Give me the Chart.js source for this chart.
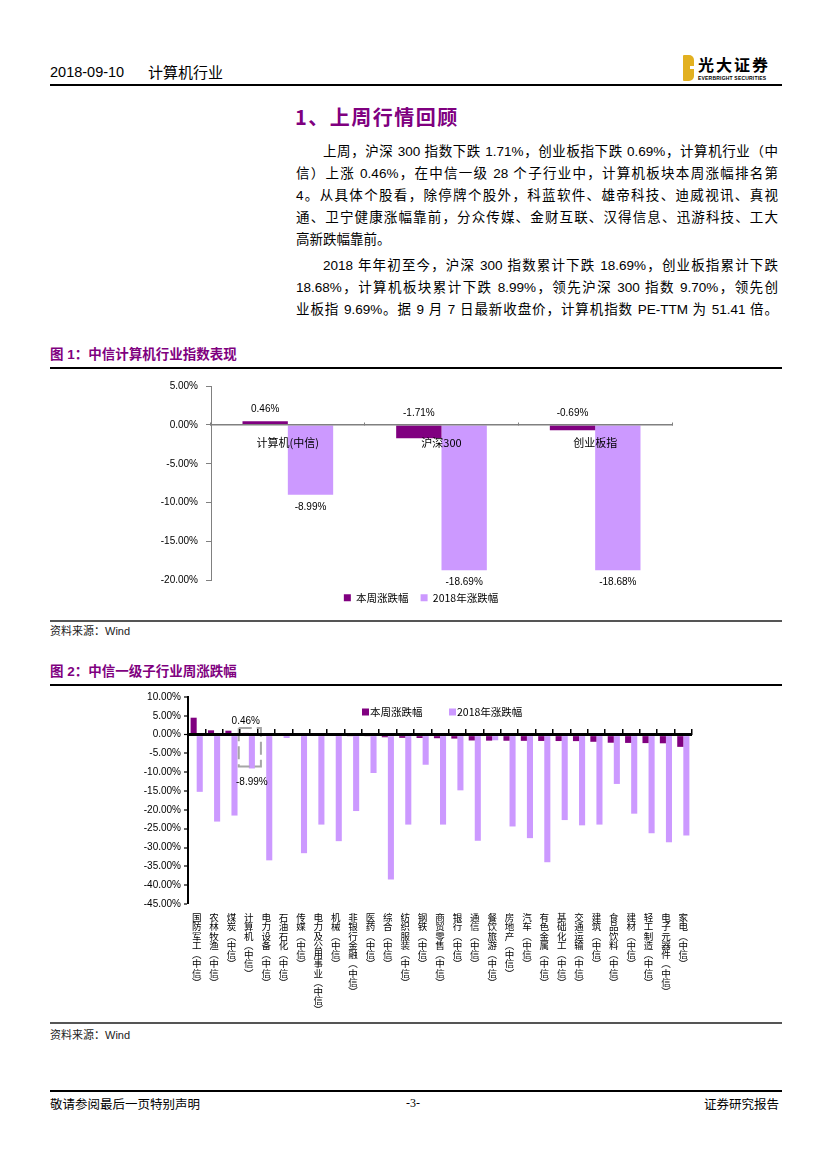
<!DOCTYPE html>
<html>
<head>
<meta charset="utf-8">
<script src="https://cdn.jsdelivr.net/npm/chart.js@4.4.0/dist/chart.umd.min.js"></script>
<style>
body { margin: 0; background: #fff; }
#page { position: relative; width: 827px; height: 1169px; overflow: hidden; font-family: "Liberation Sans", "Noto Sans CJK SC", sans-serif; color: #000; }
.abs { position: absolute; }
.rule { position: absolute; left: 50px; width: 732px; background: #000; }
.ln { position: absolute; left: 296px; width: 482px; font-size: 13.5px; line-height: 22px; text-align: justify; text-align-last: justify; }
.cap { position: absolute; left: 50px; font-size: 13.5px; font-weight: bold; color: #7f007f; line-height: 18px; }
.src { position: absolute; left: 50px; font-size: 11px; line-height: 14px; color: #222; }
canvas { position: absolute; }
</style>
</head>
<body>
<div id="page">
  <!-- header -->
  <div class="abs" style="left:50px;top:63px;font-size:14.5px;line-height:18px;">2018-09-10</div>
  <div class="abs" style="left:148px;top:63px;font-size:15px;line-height:18px;font-family:'Noto Sans CJK SC';">计算机行业</div>
  <div class="abs" style="left:683px;top:55px;width:11px;height:26px;background:#e2b020;border-radius:1px 5px 5px 1px;"></div>
  <div class="abs" style="left:690px;top:66px;width:4px;height:3px;background:#fff;"></div>
  <div class="abs" style="left:698px;top:54px;font-size:16px;line-height:20px;font-weight:bold;letter-spacing:2px;font-family:'Noto Sans CJK SC';">光大证券</div>
  <div class="abs" style="left:698px;top:75px;font-size:5px;line-height:6px;font-weight:bold;letter-spacing:0.2px;">EVERBRIGHT SECURITIES</div>
  <div class="rule" style="top:84px;height:1.5px;"></div>

  <!-- section text -->
  <div class="abs" style="left:295px;top:104px;font-size:20px;line-height:26px;font-weight:bold;color:#7f007f;letter-spacing:1.5px;font-family:'Noto Sans CJK SC';">1、上周行情回顾</div>
  <div class="ln" style="top:141px;text-indent:27px;">上周，沪深 300 指数下跌 1.71%，创业板指下跌 0.69%，计算机行业（中</div>
  <div class="ln" style="top:163px;">信）上涨 0.46%，在中信一级 28 个子行业中，计算机板块本周涨幅排名第</div>
  <div class="ln" style="top:185px;">4。从具体个股看，除停牌个股外，科蓝软件、雄帝科技、迪威视讯、真视</div>
  <div class="ln" style="top:207px;">通、卫宁健康涨幅靠前，分众传媒、金财互联、汉得信息、迅游科技、工大</div>
  <div class="ln" style="top:229px;text-align-last:left;">高新跌幅靠前。</div>
  <div class="ln" style="top:255px;text-indent:27px;">2018 年年初至今，沪深 300 指数累计下跌 18.69%，创业板指累计下跌</div>
  <div class="ln" style="top:277px;">18.68%，计算机板块累计下跌 8.99%，领先沪深 300 指数 9.70%，领先创</div>
  <div class="ln" style="top:299px;">业板指 9.69%。据 9 月 7 日最新收盘价，计算机指数 PE-TTM 为 51.41 倍。</div>

  <!-- figure 1 -->
  <div class="cap" style="top:346px;">图 1：中信计算机行业指数表现</div>
  <div class="rule" style="top:367px;height:1.5px;"></div>
  <canvas id="c1" width="730" height="245" style="left:56px;top:372px;"></canvas>
  <div class="rule" style="top:620px;height:2px;background:#555;"></div>
  <div class="src" style="top:624px;">资料来源：Wind</div>

  <!-- figure 2 -->
  <div class="cap" style="top:663px;">图 2：中信一级子行业周涨跌幅</div>
  <div class="rule" style="top:684px;height:1.5px;"></div>
  <canvas id="c2" width="730" height="332" style="left:50px;top:688px;"></canvas>
  <div class="rule" style="top:1022px;height:2px;background:#555;"></div>
  <div class="src" style="top:1028px;">资料来源：Wind</div>

  <!-- footer -->
  <div class="rule" style="top:1090px;height:1.5px;"></div>
  <div class="abs" style="left:50px;top:1096px;font-size:12.5px;line-height:15px;font-family:'Noto Sans CJK SC';">敬请参阅最后一页特别声明</div>
  <div class="abs" style="left:403px;top:1096px;width:20px;text-align:center;font-size:12px;line-height:15px;font-family:'Liberation Serif';">-3-</div>
  <div class="abs" style="left:704px;top:1096px;font-size:12.5px;line-height:15px;font-family:'Noto Sans CJK SC';">证券研究报告</div>
</div>

<script>
// figure 1: 中信计算机行业指数表现
var categories1 = ['计算机(中信)', '沪深300', '创业板指'];
var weekly1 = [0.46, -1.71, -0.69];
var ytd1 = [-8.99, -18.69, -18.68];

// figure 2: 中信一级子行业周涨跌幅
var categories2 = ['国防军工(中信)', '农林牧渔(中信)', '煤炭(中信)', '计算机(中信)', '电力设备(中信)',
    '石油石化(中信)', '传媒(中信)', '电力及公用事业(中信)', '机械(中信)', '非银行金融(中信)',
    '医药(中信)', '综合(中信)', '纺织服装(中信)', '钢铁(中信)', '商贸零售(中信)', '银行(中信)',
    '通信(中信)', '餐饮旅游(中信)', '房地产(中信)', '汽车(中信)', '有色金属(中信)', '基础化工(中信)',
    '交通运输(中信)', '建筑(中信)', '食品饮料(中信)', '建材(中信)', '轻工制造(中信)',
    '电子元器件(中信)', '家电(中信)'];
var weekly2 = [4.50, 1.15, 1.05, 0.46, 0.25, 0.15, 0.10, 0.05, 0.02, -0.05, -0.20, -0.70, -0.85,
    -0.90, -0.95, -1.05, -1.55, -1.60, -1.62, -1.65, -1.68, -1.70, -1.72, -1.90, -2.15, -2.20,
    -2.25, -2.30, -3.25];
var ytd2 = [-15.2, -23.1, -21.5, -8.99, -33.4, -0.9, -31.5, -23.9, -28.3, -20.3, -10.2, -38.5,
    -23.9, -8.0, -23.9, -14.8, -28.2, -1.5, -24.4, -27.5, -33.9, -22.7, -24.1, -23.9, -13.1,
    -21.0, -26.2, -28.6, -26.8];
var highlightIndex = 3; // 计算机(中信)

var seriesLabels = ['本周涨跌幅', '2018年涨跌幅'];
var DARK = '#800080';
var LIGHT = '#cc99ff';
var CJK = '"Noto Sans CJK SC", sans-serif';
var LATIN = '"Liberation Sans", sans-serif';

function pct(v) {
    return Number(v).toFixed(2) + '%';
}

// 竖排类目标签: 每个字一行, 括号换成竖排括号
function verticalLabel(s) {
    return Array.from(s.replace('(', '︵').replace(')', '︶'));
}

var valueLabels = {
    id: 'valueLabels',
    afterDatasetsDraw: function (chart, args, opts) {
        var ctx = chart.ctx;
        ctx.save();
        ctx.font = '10px ' + LATIN;
        ctx.fillStyle = '#000';
        ctx.textAlign = 'center';
        ctx.textBaseline = 'middle';
        chart.data.datasets.forEach(function (ds, di) {
            var meta = chart.getDatasetMeta(di);
            meta.data.forEach(function (bar, i) {
                if (opts.only != null && i !== opts.only) return;
                var y;
                if (di === 0) {
                    y = Math.min(bar.y, bar.base) - opts.above;
                } else {
                    y = Math.max(bar.y, bar.base) + opts.below;
                }
                ctx.fillText(pct(ds.data[i]), bar.x, y);
            });
        });
        ctx.restore();
    }
};

var focusBox = {
    id: 'focusBox',
    afterDatasetsDraw: function (chart, args, opts) {
        if (opts.index == null) return;
        var a = chart.getDatasetMeta(0).data[opts.index];
        var b = chart.getDatasetMeta(1).data[opts.index];
        var ctx = chart.ctx;
        var left = a.x - a.width / 2 - 4;
        var right = b.x + b.width / 2 + 6;
        var top = Math.min(a.y, a.base) - 5;
        var bottom = Math.max(b.y, b.base) - 2;
        ctx.save();
        ctx.setLineDash([13, 5]);
        ctx.lineWidth = 2;
        ctx.strokeStyle = '#a6a6a6';
        ctx.strokeRect(left, top, right - left, bottom - top);
        ctx.restore();
    }
};

// legend drawn inside the plot area (chart 2)
var innerLegend = {
    id: 'innerLegend',
    afterDraw: function (chart, args, opts) {
        if (!opts.x) return;
        var ctx = chart.ctx;
        var area = chart.chartArea;
        ctx.save();
        ctx.font = '10.5px ' + CJK;
        ctx.textAlign = 'left';
        ctx.textBaseline = 'middle';
        chart.data.datasets.forEach(function (ds, i) {
            var x = area.left + opts.x[i];
            var y = area.top + opts.y;
            ctx.fillStyle = ds.backgroundColor;
            ctx.fillRect(x, y - 3.5, 7, 7);
            ctx.fillStyle = '#000';
            ctx.fillText(ds.label, x + 8, y);
        });
        ctx.restore();
    }
};

new Chart(document.getElementById('c1'), {
    type: 'bar',
    data: {
        labels: categories1,
        datasets: [
            { label: seriesLabels[0], data: weekly1, backgroundColor: DARK },
            { label: seriesLabels[1], data: ytd1, backgroundColor: LIGHT }
        ]
    },
    options: {
        responsive: false,
        animation: false,
        layout: { padding: { top: 12, bottom: 4 } },
        datasets: { bar: { categoryPercentage: 0.59, barPercentage: 1 } },
        plugins: {
            legend: {
                position: 'bottom',
                labels: { boxWidth: 7, boxHeight: 7, padding: 12, color: '#000', font: { family: CJK, size: 10.5 } }
            },
            tooltip: { enabled: false },
            valueLabels: { above: 12, below: 12 }
        },
        scales: {
            x: {
                position: { y: 0 },
                offset: true,
                grid: { drawOnChartArea: false, tickLength: -3, color: '#808080', offset: true, z: 1 },
                border: { color: '#808080', width: 1.5, z: 1 },
                ticks: { color: '#000', padding: 14, z: 1, font: { family: CJK, size: 11 } }
            },
            y: {
                min: -20,
                max: 5,
                ticks: { stepSize: 5, callback: function (v) { return pct(v); }, color: '#000', padding: 8, font: { family: LATIN, size: 10 } },
                grid: { drawOnChartArea: false, tickLength: 5, color: '#808080' },
                border: { color: '#808080' },
                afterFit: function (s) { s.width = 155; }
            },
            yR: {
                position: 'right',
                grid: { display: false },
                border: { display: false },
                ticks: { display: false },
                afterFit: function (s) { s.width = 114; }
            }
        }
    },
    plugins: [valueLabels]
});

new Chart(document.getElementById('c2'), {
    type: 'bar',
    data: {
        labels: categories2.map(verticalLabel),
        datasets: [
            { label: seriesLabels[0], data: weekly2, backgroundColor: DARK },
            { label: seriesLabels[1], data: ytd2, backgroundColor: LIGHT }
        ]
    },
    options: {
        responsive: false,
        animation: false,
        layout: { padding: { top: 7, right: 88 } },
        datasets: { bar: { categoryPercentage: 0.7, barPercentage: 1 } },
        plugins: {
            legend: { display: false },
            innerLegend: { x: [174, 261], y: 15 },
            tooltip: { enabled: false },
            valueLabels: { only: highlightIndex, above: 12, below: 14 },
            focusBox: { index: highlightIndex }
        },
        scales: {
            x: {
                grid: { display: false, drawTicks: false },
                border: { display: false },
                ticks: { autoSkip: false, maxRotation: 0, minRotation: 0, padding: 9, color: '#000', font: { family: CJK, size: 9.5, lineHeight: 0.97 } },
                afterFit: function (s) { s.height = 116; }
            },
            xz: {
                type: 'category',
                position: { y: 0 },
                offset: true,
                grid: { drawOnChartArea: false, tickLength: -6, color: '#000', lineWidth: 1.5, offset: true, z: 1 },
                border: { display: false },
                ticks: { display: false }
            },
            y: {
                min: -45,
                max: 10,
                ticks: { stepSize: 5, callback: function (v) { return pct(v); }, color: '#000', padding: 3, font: { family: LATIN, size: 10 } },
                grid: {
                    z: 1,
                    color: function (c) { return c.tick && c.tick.value === 0 ? '#000' : 'rgba(0,0,0,0)'; },
                    lineWidth: function (c) { return c.tick && c.tick.value === 0 ? 3 : 0; },
                    tickColor: '#000',
                    tickWidth: 1.2,
                    tickLength: 4
                },
                border: { color: '#000', width: 2, z: 1 },
                afterFit: function (s) { s.width = 138; }
            }
        }
    },
    plugins: [valueLabels, focusBox, innerLegend]
});
</script>
</body>
</html>
